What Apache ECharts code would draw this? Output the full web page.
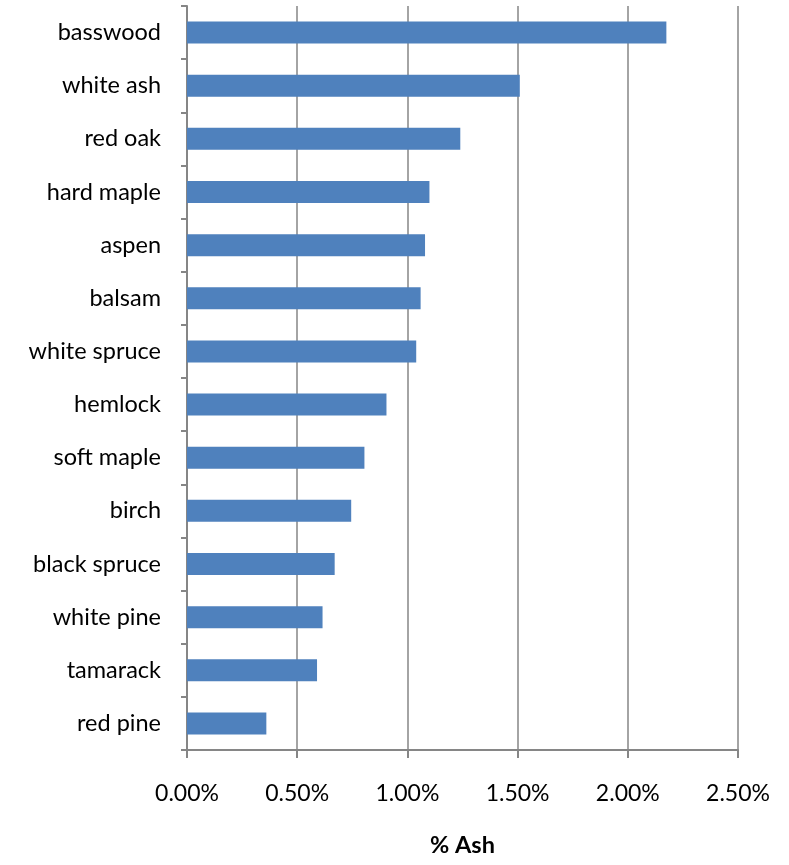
<!DOCTYPE html>
<html><head><meta charset="utf-8">
<script src="https://cdn.jsdelivr.net/npm/echarts@6/dist/echarts.min.js"></script>
<style>html,body{margin:0;padding:0;background:#fff}#c{width:789px;height:865px}</style>
</head><body><div id="c"></div>
<script>
const categories = ["basswood","white ash","red oak","hard maple","aspen","balsam","white spruce","hemlock","soft maple","birch","black spruce","white pine","tamarack","red pine"];
const ashPercent = [2.175, 1.51, 1.24, 1.10, 1.08, 1.06, 1.04, 0.905, 0.805, 0.745, 0.67, 0.615, 0.59, 0.36];
const xTicks = [0, 0.5, 1.0, 1.5, 2.0, 2.5];

const font = "Lato, 'Open Sans', sans-serif";
const grey = '#868686';
const chart = echarts.init(document.getElementById('c'));
chart.setOption({
  animation: false,
  grid: {left: 187, right: 51, top: 6, bottom: 115, containLabel: false},
  xAxis: {
    type: 'value', min: xTicks[0], max: xTicks[xTicks.length-1], interval: 0.5,
    name: '% Ash', nameLocation: 'middle', nameGap: 83,
    nameTextStyle: {fontFamily: font, fontSize: 23.5, fontWeight: 'bold', color: '#000'},
    axisLine: {show: true, lineStyle: {color: grey, width: 2}},
    axisTick: {show: true, length: 8, lineStyle: {color: grey, width: 2}},
    splitLine: {show: true, lineStyle: {color: grey, width: 1.5}},
    axisLabel: {fontFamily: font, fontSize: 23, color: '#000', margin: 32,
      formatter: v => v.toFixed(2) + '%'}
  },
  yAxis: {
    type: 'category', data: categories, inverse: true,
    axisLine: {show: true, lineStyle: {color: grey, width: 2}},
    axisTick: {show: true, length: 6, lineStyle: {color: grey, width: 2}},
    axisLabel: {fontFamily: font, fontSize: 23.5, color: '#000', margin: 26}
  },
  series: [{
    type: 'bar', data: ashPercent, barWidth: 22,
    itemStyle: {color: '#4F81BD'}
  }]
});
</script></body></html>
